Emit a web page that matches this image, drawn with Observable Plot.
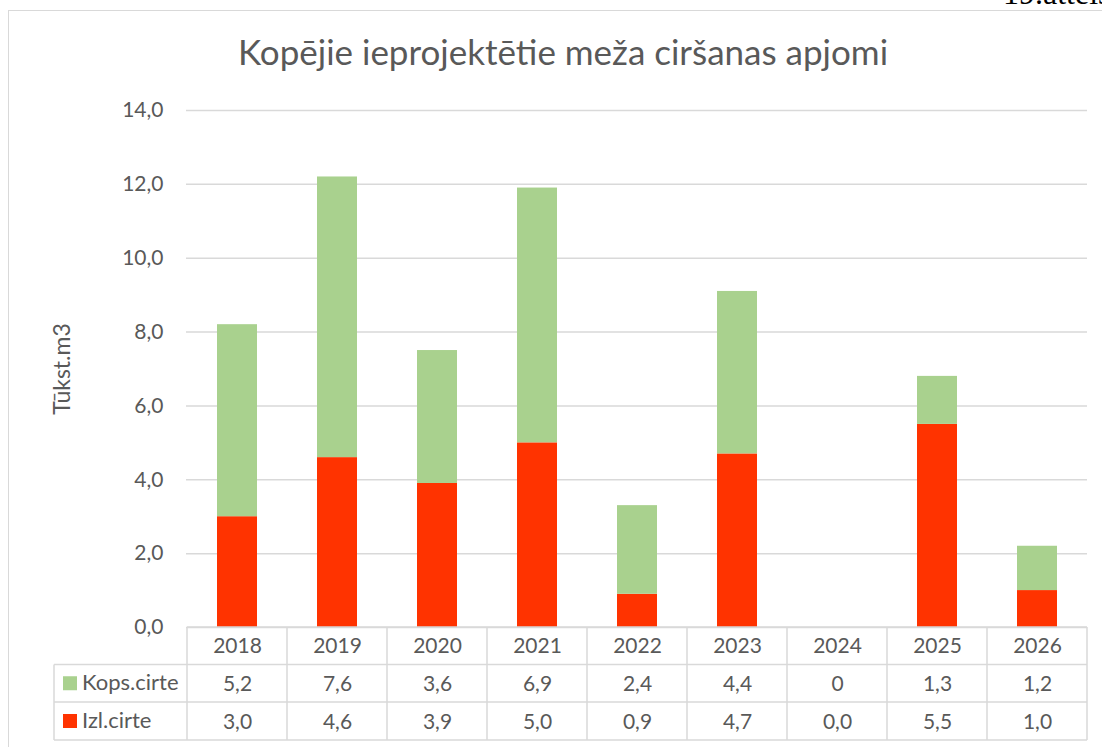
<!DOCTYPE html>
<html><head><meta charset="utf-8">
<script src="https://cdn.jsdelivr.net/npm/d3@7"></script>
<script src="https://cdn.jsdelivr.net/npm/@observablehq/plot@0.6"></script>
<style>
html,body{margin:0;padding:0;background:#fff;width:1102px;height:747px;overflow:hidden;}
#wrap{position:relative;width:1102px;height:747px;overflow:hidden;}
#frame{position:absolute;left:8px;top:10px;width:1200px;height:800px;border:1.5px solid #D9D9D9;box-sizing:border-box;}
#fig{position:absolute;left:0;top:0;}
#title{position:absolute;left:0;width:1126px;top:30px;line-height:42px;text-align:center;font-family:Lato;font-size:35px;color:#595959;white-space:nowrap;}
#note{position:absolute;left:1003px;top:-23px;line-height:32px;font-family:"Liberation Serif";font-size:32px;color:#000;white-space:nowrap;}
</style>
</head><body>
<div id="wrap">
  <div id="frame"></div>
  <div id="fig"></div>
  <div id="title">Kopējie ieprojektētie meža ciršanas apjomi</div>
  <div id="note">19.attēls</div>
</div>
<script>
const years = ["2018","2019","2020","2021","2022","2023","2024","2025","2026"];
const kops = [5.2, 7.6, 3.6, 6.9, 2.4, 4.4, 0, 1.3, 1.2];
const izl  = [3.0, 4.6, 3.9, 5.0, 0.9, 4.7, 0.0, 5.5, 1.0];
const seriesNames = ["Kops.cirte", "Izl.cirte"];
const seriesColors = ["#A9D18E", "#FF3300"];
const yTicks = [0, 2, 4, 6, 8, 10, 12, 14];
const yLabel = "Tūkst.m3";

const fmt = v => v.toFixed(1).replace(".", ",");
const kopsFmt = v => v === 0 ? "0" : fmt(v);

const rows = years.flatMap((yr, i) => [
  {year: yr, series: "Izl.cirte", value: izl[i]},
  {year: yr, series: "Kops.cirte", value: kops[i]}
]);
const kopsRows = years.map((yr, i) => ({year: yr, v: kops[i]}));
const izlRows = years.map((yr, i) => ({year: yr, v: izl[i]}));

const textColor = "#595959";
const lineColor = "#D9D9D9";

const chart = Plot.plot({
  width: 1102, height: 747,
  marginTop: 110, marginBottom: 120, marginLeft: 186, marginRight: 15,
  style: {fontFamily: "Lato", fontSize: "21px", color: textColor, background: "transparent", overflow: "visible"},
  x: {domain: years, paddingInner: 0.6, paddingOuter: 0.3, axis: null},
  y: {domain: [0, 14]},
  color: {domain: seriesNames, range: seriesColors},
  marks: [
    Plot.gridY(yTicks, {stroke: lineColor, strokeOpacity: 1, strokeWidth: 1.5}),
    Plot.axisY(yTicks, {tickSize: 0, tickPadding: 23, tickFormat: fmt, fill: textColor, label: null}),
    Plot.axisY({ticks: [], tickSize: 0, label: yLabel, labelAnchor: "center", labelArrow: "none", labelOffset: 133, fontSize: 23, fill: textColor}),
    Plot.barY(rows, {x: "year", y: "value", fill: "series", order: ["Izl.cirte", "Kops.cirte"]}),
    Plot.text(years, {x: d => d, frameAnchor: "bottom", lineAnchor: "middle", dy: 19, text: d => d, fill: textColor}),
    Plot.text(kopsRows, {x: "year", frameAnchor: "bottom", lineAnchor: "middle", dy: 57, text: d => kopsFmt(d.v), fill: textColor}),
    Plot.text(izlRows, {x: "year", frameAnchor: "bottom", lineAnchor: "middle", dy: 95, text: d => fmt(d.v), fill: textColor})
  ]
});
document.getElementById("fig").appendChild(chart);

// data-table grid lines and legend keys, positioned from Plot's own x scale
const sx = chart.scale("x");
const step = sx.step;
const svg = d3.select(chart);
const g = svg.append("g").attr("stroke", lineColor).attr("stroke-width", 1.5);
const base = 747 - 120;
const rowY = [base, base + 37.5, base + 75, base + 113];
const bounds = years.map(yr => sx.apply(yr) - step / 2 + sx.bandwidth / 2)
  .concat([sx.apply(years[years.length - 1]) + step / 2 + sx.bandwidth / 2]);
bounds.forEach(bx => g.append("line").attr("x1", bx).attr("x2", bx).attr("y1", rowY[0]).attr("y2", rowY[3]));
const tableLeft = 54;
[rowY[1], rowY[2], rowY[3]].forEach(yy => g.append("line").attr("x1", tableLeft).attr("x2", bounds[bounds.length - 1]).attr("y1", yy).attr("y2", yy));
g.append("line").attr("x1", tableLeft).attr("x2", tableLeft).attr("y1", rowY[1]).attr("y2", rowY[3]);
g.append("line").attr("x1", bounds[0]).attr("x2", bounds[bounds.length - 1]).attr("y1", rowY[0]).attr("y2", rowY[0]);

const legendOrder = ["Kops.cirte", "Izl.cirte"];
const cs = chart.scale("color");
legendOrder.forEach((name, i) => {
  const cy = (rowY[i + 1] + rowY[i + 2]) / 2;
  svg.append("rect").attr("x", 63).attr("y", cy - 7).attr("width", 14).attr("height", 14).attr("fill", cs.apply(name));
  svg.append("text").attr("x", 82).attr("y", cy).attr("dy", "0.32em").attr("fill", textColor)
    .attr("text-anchor", "start").attr("font-family", "Lato").attr("font-size", 22).text(name);
});
</script>
</body></html>
